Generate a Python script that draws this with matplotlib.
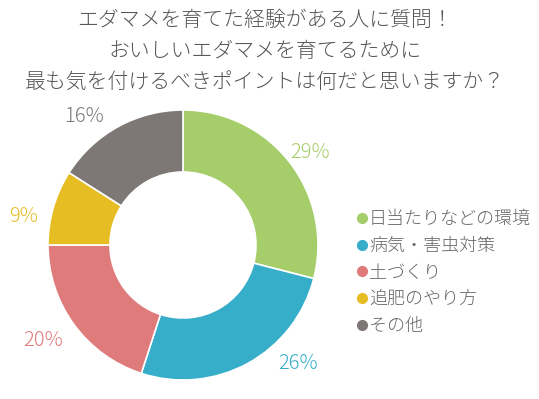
import matplotlib
matplotlib.use('Agg')
import matplotlib.pyplot as plt
import numpy as np
from matplotlib.lines import Line2D

plt.rcParams['font.family'] = ['Noto Sans CJK JP', 'DejaVu Sans']

# data
title_lines = ['エダマメを育てた経験がある人に質問！',
               'おいしいエダマメを育てるために',
               '最も気を付けるべきポイントは何だと思いますか？']
categories = ['日当たりなどの環境', '病気・害虫対策', '土づくり', '追肥のやり方', 'その他']
shares = [29, 26, 20, 9, 16]
colors = ['#A5CE6B', '#36ADC9', '#E07B7B', '#E6BE24', '#7D7876']

# label placement tweaks (degrees off the wedge middle, distance in px)
label_shift = [-1.6, 15.4, -1.6, 6, 9]
label_dist = [157, 165, 169, 162, 162]

cx, cy, R = 183, 154, 135

fig = plt.figure(figsize=(5.39, 3.99), dpi=100)
ax = fig.add_axes([0, 0, 1, 1])

wedges, _ = ax.pie(shares, colors=colors, startangle=90, counterclock=False,
                   center=(cx, cy), radius=R, frame=True,
                   wedgeprops=dict(width=62, edgecolor='white', linewidth=1.2))
ax.set_xlim(0, 539)
ax.set_ylim(0, 399)
ax.axis('off')

for w, v, c, sh, d in zip(wedges, shares, colors, label_shift, label_dist):
    ang = np.deg2rad((w.theta1 + w.theta2) / 2 + sh)
    ax.text(cx + d * np.cos(ang), cy + d * np.sin(ang), f'{v}%', color=c,
            fontsize=14.5, ha='center', va='center', fontweight='light')

# title
for i, line in enumerate(title_lines):
    fig.text(0.492, 1 - (20 + 31 * i) / 399, line, ha='center', va='center',
             fontsize=15, color='#555555', fontweight='light')

handles = [Line2D([], [], marker='o', linestyle='none', markersize=7,
                  markerfacecolor=c, markeredgecolor=c) for c in colors]
ax.legend(handles, categories, loc='upper left', bbox_to_anchor=(350 / 539, 1 - 203 / 399),
          frameon=False, prop=dict(size=13, weight='light'), handlelength=0.5,
          handletextpad=0.15, labelspacing=0.48, borderaxespad=0, labelcolor='#666666')

plt.savefig('out.png', dpi=100)
